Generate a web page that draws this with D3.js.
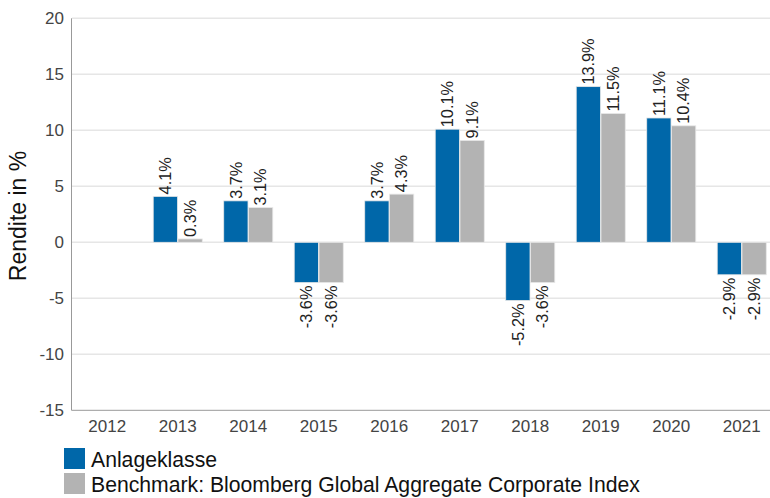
<!DOCTYPE html>
<html lang="de">
<head>
  <meta charset="UTF-8">
  <title>Rendite</title>
  <style>
    body { margin: 0; background: #fff; }
    svg { font-family: "Liberation Sans", Arial, sans-serif; }
    .tick-label { fill: #444; font-size: 17px; }
    .val { fill: #222; font-size: 16.3px; }
    .legend text { fill: #111; font-size: 21.2px; }
  </style>
</head>
<body>
  <script src="https://d3js.org/d3.v7.min.js"></script>
  <script>
    // Jahre und Renditen (in %)
    const years = ["2012", "2013", "2014", "2015", "2016", "2017", "2018", "2019", "2020", "2021"];
    const anlageklasse = [null, 4.1, 3.7, -3.6, 3.7, 10.1, -5.2, 13.9, 11.1, -2.9];
    const benchmark = [null, 0.3, 3.1, -3.6, 4.3, 9.1, -3.6, 11.5, 10.4, -2.9];
    const yTicks = [20, 15, 10, 5, 0, -5, -10, -15];
    const seriesNames = ["Anlageklasse", "Benchmark: Bloomberg Global Aggregate Corporate Index"];
    const colors = ["#0067a9", "#b3b3b3"];

    const width = 770, height = 498;
    const svg = d3.select("body").append("svg")
      .attr("width", width)
      .attr("height", height);

    const plotLeft = 72, plotRight = 777, plotTop = 18.3, plotBottom = 410.3;

    const y = d3.scaleLinear().domain([-15, 20]).range([plotBottom, plotTop]);
    const x0 = d3.scaleBand().domain(years).range([plotLeft, plotRight])
      .paddingInner(0.29).paddingOuter(0.145);
    const x1 = d3.scaleBand().domain([0, 1]).range([0, x0.bandwidth()]).padding(0.02);

    // Gitterlinien
    svg.append("g").selectAll("line")
      .data(yTicks.filter(t => t !== -15))
      .enter().append("line")
      .attr("x1", plotLeft).attr("x2", width)
      .attr("y1", d => y(d)).attr("y2", d => y(d))
      .attr("stroke", "#e6e6e6").attr("stroke-width", 1.5);

    // Achsen
    svg.append("line")
      .attr("x1", plotLeft - 0.5).attr("x2", plotLeft - 0.5)
      .attr("y1", plotTop).attr("y2", plotBottom)
      .attr("stroke", "#999");
    svg.append("line")
      .attr("x1", plotLeft - 0.5).attr("x2", width)
      .attr("y1", plotBottom).attr("y2", plotBottom)
      .attr("stroke", "#999");

    svg.append("g").selectAll("text")
      .data(yTicks)
      .enter().append("text")
      .attr("class", "tick-label")
      .attr("x", 64)
      .attr("y", d => y(d))
      .attr("dy", "0.35em")
      .attr("text-anchor", "end")
      .text(d => d);

    svg.append("g").selectAll("text")
      .data(years)
      .enter().append("text")
      .attr("class", "tick-label")
      .attr("x", d => x0(d) + x0.bandwidth() / 2)
      .attr("y", 431.5)
      .attr("text-anchor", "middle")
      .text(d => d);

    svg.append("text")
      .attr("transform", "translate(25.5,216) rotate(-90)")
      .attr("text-anchor", "middle")
      .attr("font-size", "23px")
      .attr("fill", "#111")
      .text("Rendite in %");

    // Balken
    const rows = years.map((yr, i) => ({ year: yr, vals: [anlageklasse[i], benchmark[i]] }));
    const groups = svg.append("g").selectAll("g")
      .data(rows)
      .enter().append("g")
      .attr("transform", d => "translate(" + x0(d.year) + ",0)");

    const cells = groups.selectAll("g")
      .data(d => d.vals.map((v, k) => ({ k: k, v: v })).filter(c => c.v !== null))
      .enter().append("g");

    cells.append("rect")
      .attr("x", d => x1(d.k))
      .attr("width", x1.bandwidth())
      .attr("y", d => y(Math.max(0, d.v)))
      .attr("height", d => Math.abs(y(d.v) - y(0)))
      .attr("fill", d => colors[d.k])
      .attr("stroke", "#e8e8e8")
      .attr("stroke-width", 0.8);

    cells.append("text")
      .attr("class", "val")
      .attr("transform", d => {
        const cx = x1(d.k) + x1.bandwidth() / 2;
        const yy = d.v >= 0 ? y(d.v) - 2 : y(d.v) + 3;
        return "translate(" + cx + "," + yy + ") rotate(-90)";
      })
      .attr("dy", "0.35em")
      .attr("text-anchor", d => d.v >= 0 ? "start" : "end")
      .text(d => d.v.toFixed(1) + "%");

    // Legende
    const legend = svg.append("g").attr("class", "legend");
    legend.selectAll("rect")
      .data(seriesNames)
      .enter().append("rect")
      .attr("x", 64)
      .attr("y", (d, i) => 448 + i * 25)
      .attr("width", 21)
      .attr("height", 21)
      .attr("fill", (d, i) => colors[i]);
    legend.selectAll("text")
      .data(seriesNames)
      .enter().append("text")
      .attr("x", 91)
      .attr("y", (d, i) => 467 + i * 25)
      .text(d => d);
  </script>
</body>
</html>
